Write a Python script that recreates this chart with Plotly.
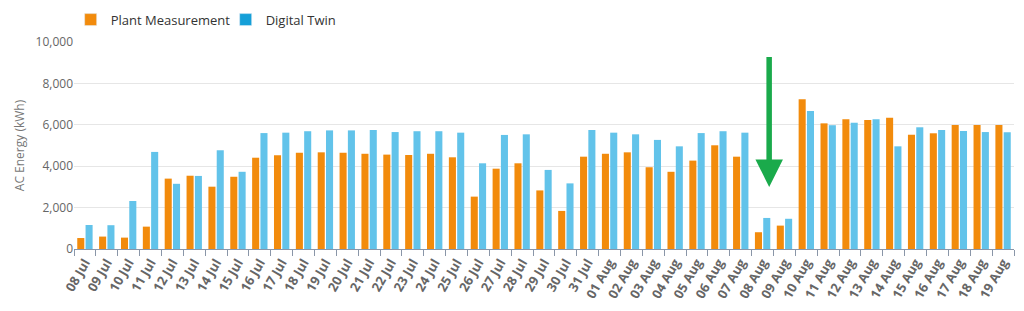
import plotly.graph_objects as go

dates = ["08 Jul","09 Jul","10 Jul","11 Jul","12 Jul","13 Jul","14 Jul","15 Jul","16 Jul","17 Jul",
         "18 Jul","19 Jul","20 Jul","21 Jul","22 Jul","23 Jul","24 Jul","25 Jul","26 Jul","27 Jul",
         "28 Jul","29 Jul","30 Jul","31 Jul","01 Aug","02 Aug","03 Aug","04 Aug","05 Aug","06 Aug",
         "07 Aug","08 Aug","09 Aug","10 Aug","11 Aug","12 Aug","13 Aug","14 Aug","15 Aug","16 Aug",
         "17 Aug","18 Aug","19 Aug"]

plant = [530, 600, 550, 1080, 3400, 3540, 3010, 3490, 4410, 4530,
         4650, 4670, 4650, 4600, 4560, 4540, 4600, 4430, 2530, 3880,
         4140, 2830, 1840, 4460, 4600, 4670, 3950, 3730, 4270, 5010,
         4460, 810, 1130, 7230, 6070, 6270, 6230, 6340, 5520, 5590,
         5990, 5990, 5990]

twin = [1160, 1150, 2320, 4690, 3150, 3530, 4770, 3730, 5600, 5620,
        5690, 5730, 5730, 5750, 5650, 5690, 5690, 5620, 4140, 5510,
        5540, 3820, 3170, 5750, 5620, 5540, 5270, 4960, 5600, 5690,
        5620, 1500, 1460, 6670, 5980, 6100, 6270, 4960, 5880, 5750,
        5700, 5650, 5640]

y_ticks = [0, 2000, 4000, 6000, 8000, 10000]

ORANGE = "#F28B0C"
BLUE_BAR = "#62C3EA"
BLUE_LEG = "#159FD8"
FONT = "Open Sans"

fig = go.Figure()
fig.add_trace(go.Bar(x=dates, y=plant, name="Plant Measurement", marker_color=ORANGE,
                     marker_line_width=0, showlegend=False, offsetgroup="a"))
fig.add_trace(go.Bar(x=dates, y=twin, name="Digital Twin", marker_color=BLUE_BAR,
                     marker_line_width=0, showlegend=False, offsetgroup="b"))
# legend entries
fig.add_trace(go.Bar(x=[dates[0]], y=[None], name="Plant Measurement", marker_color=ORANGE,
                     showlegend=True, hoverinfo="skip", offsetgroup="a"))
fig.add_trace(go.Bar(x=[dates[0]], y=[None], name="Digital Twin", marker_color=BLUE_LEG,
                     showlegend=True, hoverinfo="skip", offsetgroup="b"))

fig.add_annotation(x=31.3, y=3000, ax=31.3, ay=9350, xref="x", yref="y", axref="x", ayref="y",
                   showarrow=True, arrowhead=2, arrowsize=1.0, arrowwidth=5.5, arrowcolor="#1AAA4B",
                   text="")

fig.update_layout(
    width=1024, height=311,
    margin=dict(l=74, r=10, t=42, b=62, autoexpand=False),
    paper_bgcolor="white", plot_bgcolor="white",
    barmode="group", bargap=0.24, bargroupgap=0.15,
    font=dict(family=FONT, color="#666666", size=12),
    legend=dict(orientation="h", x=0.069, y=0.985, xanchor="left", yanchor="top",
                xref="container", yref="container",
                font=dict(size=13, color="#333333"), traceorder="normal",
                itemwidth=30, bgcolor="rgba(0,0,0,0)", entrywidthmode="pixels", entrywidth=110),
    showlegend=True,
)

fig.update_xaxes(type="category", tickangle=-60, ticks="outside", tickson="boundaries",
                 ticklen=6, tickcolor="#8a96a8", showline=True, linecolor="#8a96a8", linewidth=1,
                 tickfont=dict(family=FONT, size=13, color="#666666", weight="bold"),
                 showgrid=False, range=[-0.5, len(dates) - 0.5])
fig.update_yaxes(range=[0, 10000], tickvals=y_ticks, tickformat=",d", showgrid=True,
                 gridcolor="#e6e6e6", gridwidth=1, zeroline=False, showline=False,
                 tickfont=dict(family=FONT, size=12, color="#666666"),
                 title=dict(text="AC Energy (kWh)", font=dict(family=FONT, size=12, color="#777777"),
                            standoff=8))

fig.write_html("out.html")
